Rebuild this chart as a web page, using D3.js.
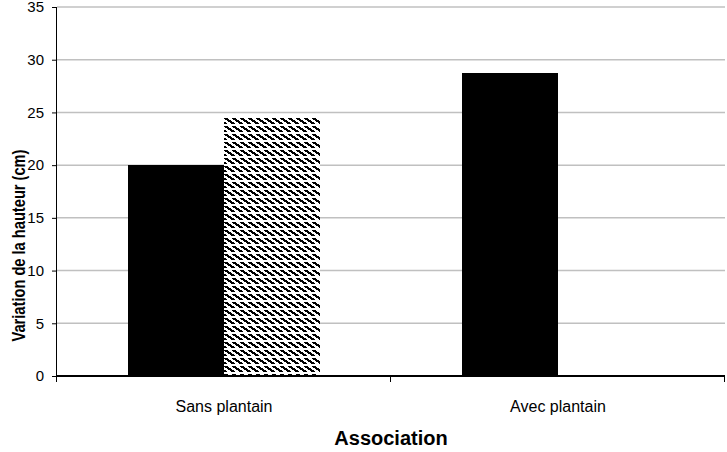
<!DOCTYPE html>
<html>
<head>
<meta charset="utf-8">
<script src="https://cdn.jsdelivr.net/npm/d3@7"></script>
<style>
  html, body { margin: 0; padding: 0; background: #fff; }
  svg { display: block; }
</style>
</head>
<body>
<script>
const categories = ["Sans plantain", "Avec plantain"];
const series = ["Série 1", "Série 2"];
const series1Values = [20.0, 28.7];
const series2Values = [24.5, 0];
const yTicks = [0, 5, 10, 15, 20, 25, 30, 35];
const yTitle = "Variation de la hauteur (cm)";
const xTitle = "Association";

const W = 727, H = 452;
const m = { left: 57, right: 2, top: 7, bottom: 76 };

const svg = d3.select("body").append("svg").attr("width", W).attr("height", H);

const x0 = d3.scaleBand().domain(categories).range([m.left, W - m.right]).paddingInner(0).paddingOuter(0);
const x1 = d3.scaleBand().domain(series).range([0, x0.bandwidth()]).paddingOuter(0.74).paddingInner(0);
const y = d3.scaleLinear().domain([0, 35]).range([H - m.bottom, m.top]);

const defs = svg.append("defs");
const pat = defs.append("pattern").attr("id", "hatch")
  .attr("patternUnits", "userSpaceOnUse").attr("width", 8).attr("height", 8)
  .attr("x", 0).attr("y", Math.round(y(series2Values[0])));
pat.append("rect").attr("width", 8).attr("height", 8).attr("fill", "#fff");
const cells = [];
for (let r = 0; r < 6; r++) {
  const s = Math.round(r * 1.4);
  for (let k = 0; k < 4; k++) cells.push([(s + k) % 8, r]);
}
pat.selectAll("rect.px").data(cells).join("rect").attr("class", "px")
  .attr("x", d => d[0]).attr("y", d => d[1]).attr("width", 1).attr("height", 1)
  .attr("fill", "#000").attr("shape-rendering", "crispEdges");

const font = "'Liberation Sans', Arial, sans-serif";

// gridlines
svg.append("g").selectAll("line").data(yTicks.filter(d => d > 0)).join("line")
  .attr("x1", m.left).attr("x2", W - m.right)
  .attr("y1", d => y(d)).attr("y2", d => y(d))
  .attr("stroke", "#c0c0c0").attr("stroke-width", 1.5);

// bars
const data = categories.map((c, i) => ({ c, vals: [series1Values[i], series2Values[i]] }));
const g = svg.append("g");
data.forEach(d => {
  d.vals.forEach((v, j) => {
    if (!v) return;
    g.append("rect")
      .attr("x", Math.round(x0(d.c) + x1(series[j])))
      .attr("width", Math.round(x1.bandwidth()))
      .attr("y", Math.round(y(v)))
      .attr("height", Math.round(y(0)) - Math.round(y(v)))
      .attr("fill", j === 0 ? "#000" : "url(#hatch)")
      .attr("shape-rendering", "crispEdges");
  });
});

// y axis
const yAxis = d3.axisLeft(y).tickValues(yTicks).tickSize(5).tickPadding(8);
const ya = svg.append("g").attr("transform", `translate(${m.left},0)`).call(yAxis);
ya.select(".domain").attr("stroke", "#000").attr("d", `M-0.5,${y(0)}V${y(35)}`);
ya.selectAll(".tick line").attr("stroke", "#000");
ya.selectAll("text").attr("font-family", font).attr("font-size", 15).attr("fill", "#000");

// x axis line
svg.append("line").attr("x1", m.left).attr("x2", W - m.right)
  .attr("y1", y(0)).attr("y2", y(0)).attr("stroke", "#000").attr("stroke-width", 2);
const xt = [m.left, x0(categories[1]), W - m.right];
svg.append("g").selectAll("line").data(xt).join("line")
  .attr("x1", d => d - 0.5).attr("x2", d => d - 0.5)
  .attr("y1", y(0)).attr("y2", y(0) + 6).attr("stroke", "#000");

// category labels
svg.append("g").selectAll("text").data(categories).join("text")
  .attr("x", d => x0(d) + x0.bandwidth() / 2)
  .attr("y", 412)
  .attr("text-anchor", "middle")
  .attr("font-family", font).attr("font-size", 16)
  .text(d => d);

// x title
svg.append("text").attr("x", (m.left + W - m.right) / 2).attr("y", 445)
  .attr("text-anchor", "middle").attr("font-family", font)
  .attr("font-size", 20).attr("font-weight", "bold").text(xTitle);

// y title (compressed)
svg.append("text")
  .attr("transform", `translate(25,${(y(0) + y(35)) / 2 + 54}) rotate(-90)`)
  .attr("text-anchor", "middle").attr("font-family", font)
  .attr("font-size", 19).attr("font-weight", "bold")
  .attr("textLength", 192).attr("lengthAdjust", "spacingAndGlyphs")
  .text(yTitle);
</script>
</body>
</html>
